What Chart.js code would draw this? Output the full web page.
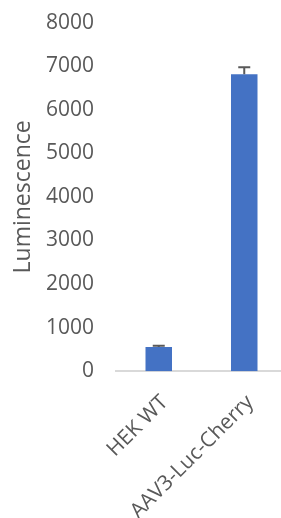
<!DOCTYPE html>
<html>
<head>
<meta charset="utf-8">
<script src="https://cdn.jsdelivr.net/npm/chart.js@4/dist/chart.umd.min.js"></script>
<style>
  html, body { margin: 0; padding: 0; background: #fff; overflow: hidden; }
  #wrap { width: 281px; height: 518px; overflow: hidden; position: relative; }
  #chart { position: absolute; left: 0; top: -12px; }
</style>
</head>
<body>
<div id="wrap"><canvas id="chart" width="287" height="555"></canvas></div>
<script>
// luminescence per cell line
const categories = ["HEK WT", "AAV3-Luc-Cherry"];
const luminescence = [552, 6812];
const errorPlus = [30, 165];
const yTicks = [0, 1000, 2000, 3000, 4000, 5000, 6000, 7000, 8000];

const TEXT = "#595959";
const FONT = { family: "'Open Sans', sans-serif", size: 21 };

// draws the + error bars from the y scale
const errorBars = {
  id: "errorBars",
  afterDatasetsDraw(chart) {
    const { ctx, scales: { y } } = chart;
    const meta = chart.getDatasetMeta(0);
    ctx.save();
    ctx.strokeStyle = "#595959";
    ctx.lineWidth = 2;
    meta.data.forEach((bar, i) => {
      const top = y.getPixelForValue(luminescence[i] + errorPlus[i]);
      const base = y.getPixelForValue(luminescence[i]);
      ctx.beginPath();
      ctx.moveTo(bar.x, base);
      ctx.lineTo(bar.x, top);
      ctx.moveTo(bar.x - 6, top);
      ctx.lineTo(bar.x + 6, top);
      ctx.stroke();
    });
    ctx.restore();
  }
};

new Chart(document.getElementById("chart").getContext("2d"), {
  type: "bar",
  data: {
    labels: categories,
    datasets: [{ data: luminescence, backgroundColor: "#4472C4", barPercentage: 0.62, categoryPercentage: 0.5 }]
  },
  options: {
    responsive: false,
    animation: false,
    layout: { padding: 0 },
    plugins: { legend: { display: false }, tooltip: { enabled: false } },
    scales: {
      x: {
        grid: { display: false, drawTicks: false },
        border: { display: true, color: "#d9d9d9", width: 2 },
        ticks: { color: TEXT, font: FONT, maxRotation: 45, minRotation: 45, padding: 19, labelOffset: 6 }
      },
      y: {
        min: 0, max: 8000,
        afterBuildTicks: s => { s.ticks = yTicks.map(v => ({ value: v })); },
        afterFit: s => { s.width = 116; },
        grid: { display: false, drawTicks: false },
        border: { display: false },
        ticks: { color: TEXT, font: FONT, padding: 22, callback: v => String(v) },
        title: { display: true, text: "Luminescence", color: TEXT, font: { family: "'Open Sans', sans-serif", size: 23 }, padding: { top: 10, bottom: 0 } }
      }
    }
  },
  plugins: [errorBars]
});
</script>
</body>
</html>
